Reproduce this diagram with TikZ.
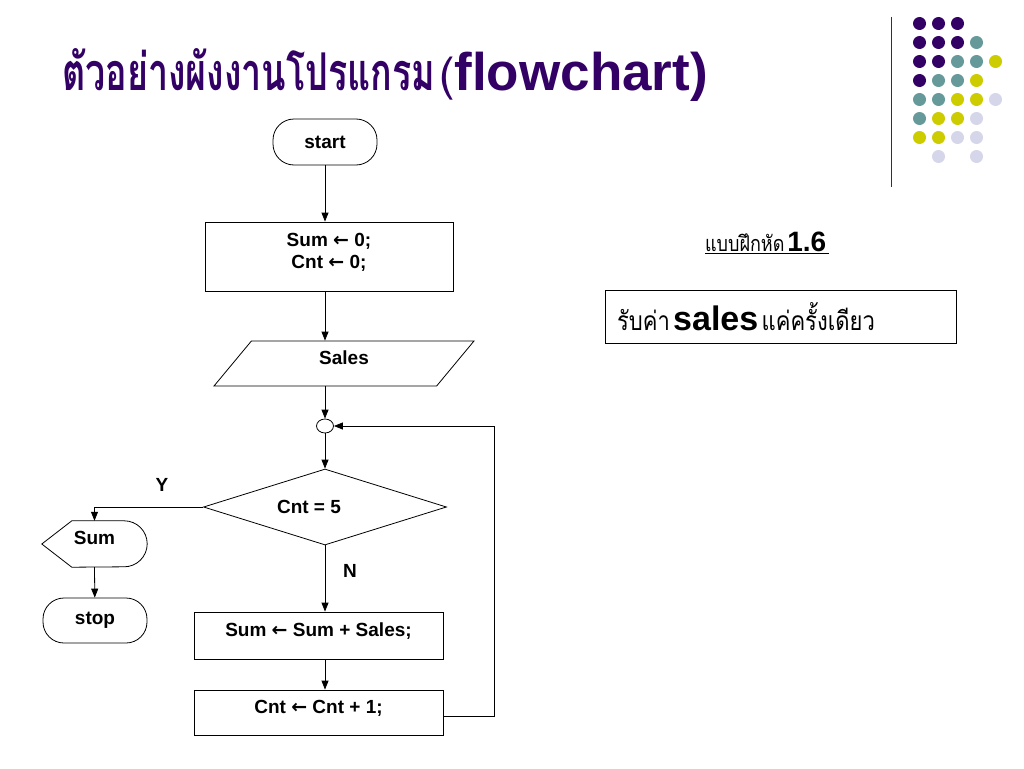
\documentclass[tikz,border=0pt]{standalone}
\usepackage{fontspec}
\setmainfont{Liberation Sans}
\newfontfamily\thai[Script=Thai]{Loma}
\newfontfamily\arrowfont{DejaVu Sans}
\usetikzlibrary{shapes.geometric,arrows.meta}

\definecolor{dotpurple}{RGB}{51,0,102}
\definecolor{dotteal}{RGB}{102,153,153}
\definecolor{dotyellow}{RGB}{204,204,0}
\definecolor{dotlilac}{RGB}{214,214,234}

\newcommand{\getsarrow}{{\arrowfont\bfseries ←}}
\newcommand{\tallthai}[2]{\scalebox{1}[1.2]{\thai\fontsize{#1}{#1}\selectfont #2}}

\tikzset{
  flowline/.style={line width=0.8pt},
  arrowline/.style={flowline, -{Triangle[length=9pt,width=7pt]}},
  chartfont/.style={font=\bfseries\fontsize{19}{22}\selectfont},
  terminal/.style={draw, flowline, chartfont, rounded corners=21pt,
    minimum width=104pt, minimum height=46pt},
  process/.style={draw, flowline, chartfont, minimum width=249pt,
    text height=14pt, text depth=13pt},
  dot/.style={circle, inner sep=0pt, minimum size=13pt},
}

\begin{document}
\begin{tikzpicture}[x=1pt, y=-1pt]
\fill[white] (0,0) rectangle (1024,768);
\useasboundingbox (0,0) rectangle (1024,768);

% title
\node (title) [anchor=base west, inner sep=0pt, text=dotpurple] at (62,90)
  {\resizebox{373pt}{42pt}{\thai\bfseries ตัวอย่างผังงานโปรแกรม}%
   \hspace{4pt}{\thai\fontsize{46}{46}\selectfont (}%
   {\bfseries\fontsize{53}{53}\selectfont flowchart)}};

% corner dots
\draw[flowline, black!80] (891.5,17) -- (891.5,187);
\foreach \col/\row/\dotcolor in {
  0/0/dotpurple, 1/0/dotpurple, 2/0/dotpurple,
  0/1/dotpurple, 1/1/dotpurple, 2/1/dotpurple, 3/1/dotteal,
  0/2/dotpurple, 1/2/dotpurple, 2/2/dotteal, 3/2/dotteal, 4/2/dotyellow,
  0/3/dotpurple, 1/3/dotteal, 2/3/dotteal, 3/3/dotyellow,
  0/4/dotteal, 1/4/dotteal, 2/4/dotyellow, 3/4/dotyellow, 4/4/dotlilac,
  0/5/dotteal, 1/5/dotyellow, 2/5/dotyellow, 3/5/dotlilac,
  0/6/dotyellow, 1/6/dotyellow, 2/6/dotlilac, 3/6/dotlilac,
  1/7/dotlilac, 3/7/dotlilac}
  \node (dot\col\row) [dot, fill=\dotcolor] at (919.5+19*\col, 23.5+19*\row) {};

% flowchart
\node (start) [terminal] at (325,142) {start};
\node (box1) [draw, flowline, chartfont, align=center, minimum width=248pt,
  minimum height=69pt] at (329,256.5)
  {Sum \getsarrow{} 0;\\Cnt \getsarrow{} 0;\rule[-11pt]{0pt}{0pt}};
\node (sales) [draw, flowline, chartfont, trapezium, trapezium stretches body,
  trapezium left angle=42, trapezium right angle=138, minimum width=260pt,
  minimum height=45pt, text height=14pt, text depth=13pt] at (344,363.5) {Sales};
\node (conn) [draw, flowline, ellipse, inner sep=0pt, minimum width=17pt,
  minimum height=14pt] at (325,426) {};
\node (dec) [draw, flowline, chartfont, diamond, minimum width=243pt,
  minimum height=76pt, inner sep=0pt] at (325,507)
  {\makebox[0pt]{\hspace*{-32pt}Cnt = 5}};
\node (sum) [chartfont, minimum width=105pt, minimum height=46pt,
  text height=14pt, text depth=13pt] at (94.5,544) {Sum};
\draw[flowline] (sum.west) -- ([xshift=30pt]sum.north west)
  -- ([xshift=-23pt]sum.north east) arc[start angle=90, end angle=-90, radius=23pt]
  -- ([xshift=30pt]sum.south west) -- cycle;
\node (stop) [terminal, minimum height=45pt] at (95,620.5) {stop};
\node (box3) [process, minimum height=47pt] at (318.5,635.5)
  {Sum \getsarrow{} Sum + Sales;};
\node (box4) [process, minimum height=45pt] at (318.5,712.5)
  {Cnt \getsarrow{} Cnt + 1;};
\node (yes) [chartfont] at (162,485) {Y};
\node (no) [chartfont] at (350,571) {N};

\draw[arrowline] (start) -- (start |- box1.north);
\draw[arrowline] (start |- box1.south) -- (start |- sales.north);
\draw[arrowline] (start |- sales.south) -- (conn);
\draw[arrowline] (conn) -- (dec);
\draw[arrowline] (dec.west) -| (sum.north);
\draw[arrowline] (sum.south) -- (stop);
\draw[arrowline] (dec.south) -- (dec.south |- box3.north);
\draw[arrowline] (box3.south -| dec) -- (box4.north -| dec);
\draw[arrowline] ([yshift=-4pt]box4.east) -- ++(51,0) |- (conn);

% exercise
\node (exercise) at (767,243)
  {\underline{\tallthai{18}{แบบฝึกหัด} {\bfseries\fontsize{28}{28}\selectfont 1.6}~}};
\node (task) [draw, flowline, align=left, text width=327pt, inner xsep=12pt,
  minimum height=53pt] at (780.5,317)
  {\tallthai{22}{รับค่า} {\bfseries\fontsize{34}{34}\selectfont sales}
   \tallthai{22}{แค่ครั้งเดียว}};
\end{tikzpicture}
\end{document}
